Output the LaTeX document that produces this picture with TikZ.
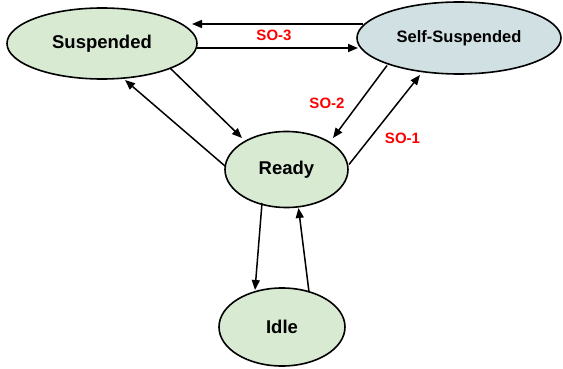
\documentclass[tikz,border=0pt]{standalone}
\usepackage{fontspec}
\setmainfont{Liberation Sans}
\usetikzlibrary{shapes.geometric,arrows.meta,calc}

\definecolor{stategreen}{HTML}{D9EAD3}
\definecolor{stateblue}{HTML}{D0E0E3}
\definecolor{labelred}{HTML}{FF0000}

\tikzset{
  state/.style={ellipse, draw=black, line width=1.6pt, fill=stategreen,
    inner sep=0pt, font=\fontsize{18.5}{22}\selectfont\bfseries},
  trans/.style={line width=1.5pt, -{Triangle[length=10pt,width=8pt]}},
  solabel/.style={text=labelred, font=\fontsize{15}{18}\selectfont\bfseries}
}

\begin{document}
\begin{tikzpicture}[x=1pt,y=-1pt]
  \useasboundingbox (0,0) rectangle (563,369);

  % states
  \node[state, minimum width=190pt, minimum height=71pt] (susp) at (102,43.5) {Suspended};
  \node[state, fill=stateblue, minimum width=204pt, minimum height=72pt,
        font=\fontsize{16.5}{20}\selectfont\bfseries] (self) at (459,38) {Self-Suspended};
  \node[state, minimum width=123pt, minimum height=76pt] (ready) at (286.5,169.5) {Ready};
  \node[state, minimum width=126pt, minimum height=78pt] (idle) at (282,327) {Idle};

  % Suspended <-> Self-Suspended
  \draw[trans] ($(self)+(-96,-14)$) -- ($(susp)+(90,-19.5)$);
  \draw[trans] ($(susp)+(95,4.5)$) -- ($(self)+(-101,10)$);

  % Suspended <-> Ready
  \draw[trans] ($(susp)+(68,24.5)$) -- ($(ready)+(-44.5,-31.5)$);
  \draw[trans] ($(ready)+(-61.5,-3.5)$) -- ($(susp)+(23,36.5)$);

  % Self-Suspended <-> Ready
  \draw[trans] ($(self)+(-72,27.5)$) -- ($(ready)+(46.5,-31.5)$);
  \draw[trans] ($(ready)+(62.5,-5)$) -- ($(self)+(-39,37)$);

  % Ready <-> Idle
  \draw[trans] ($(ready)+(-24.5,33.5)$) -- ($(idle)+(-27,-37)$);
  \draw[trans] ($(idle)+(27,-35)$) -- ($(ready)+(12,38.5)$);

  % transition labels
  \node[solabel] (so3) at (274,35) {SO-3};
  \node[solabel] (so2) at (327,103) {SO-2};
  \node[solabel] (so1) at (402.5,138) {SO-1};
\end{tikzpicture}
\end{document}
